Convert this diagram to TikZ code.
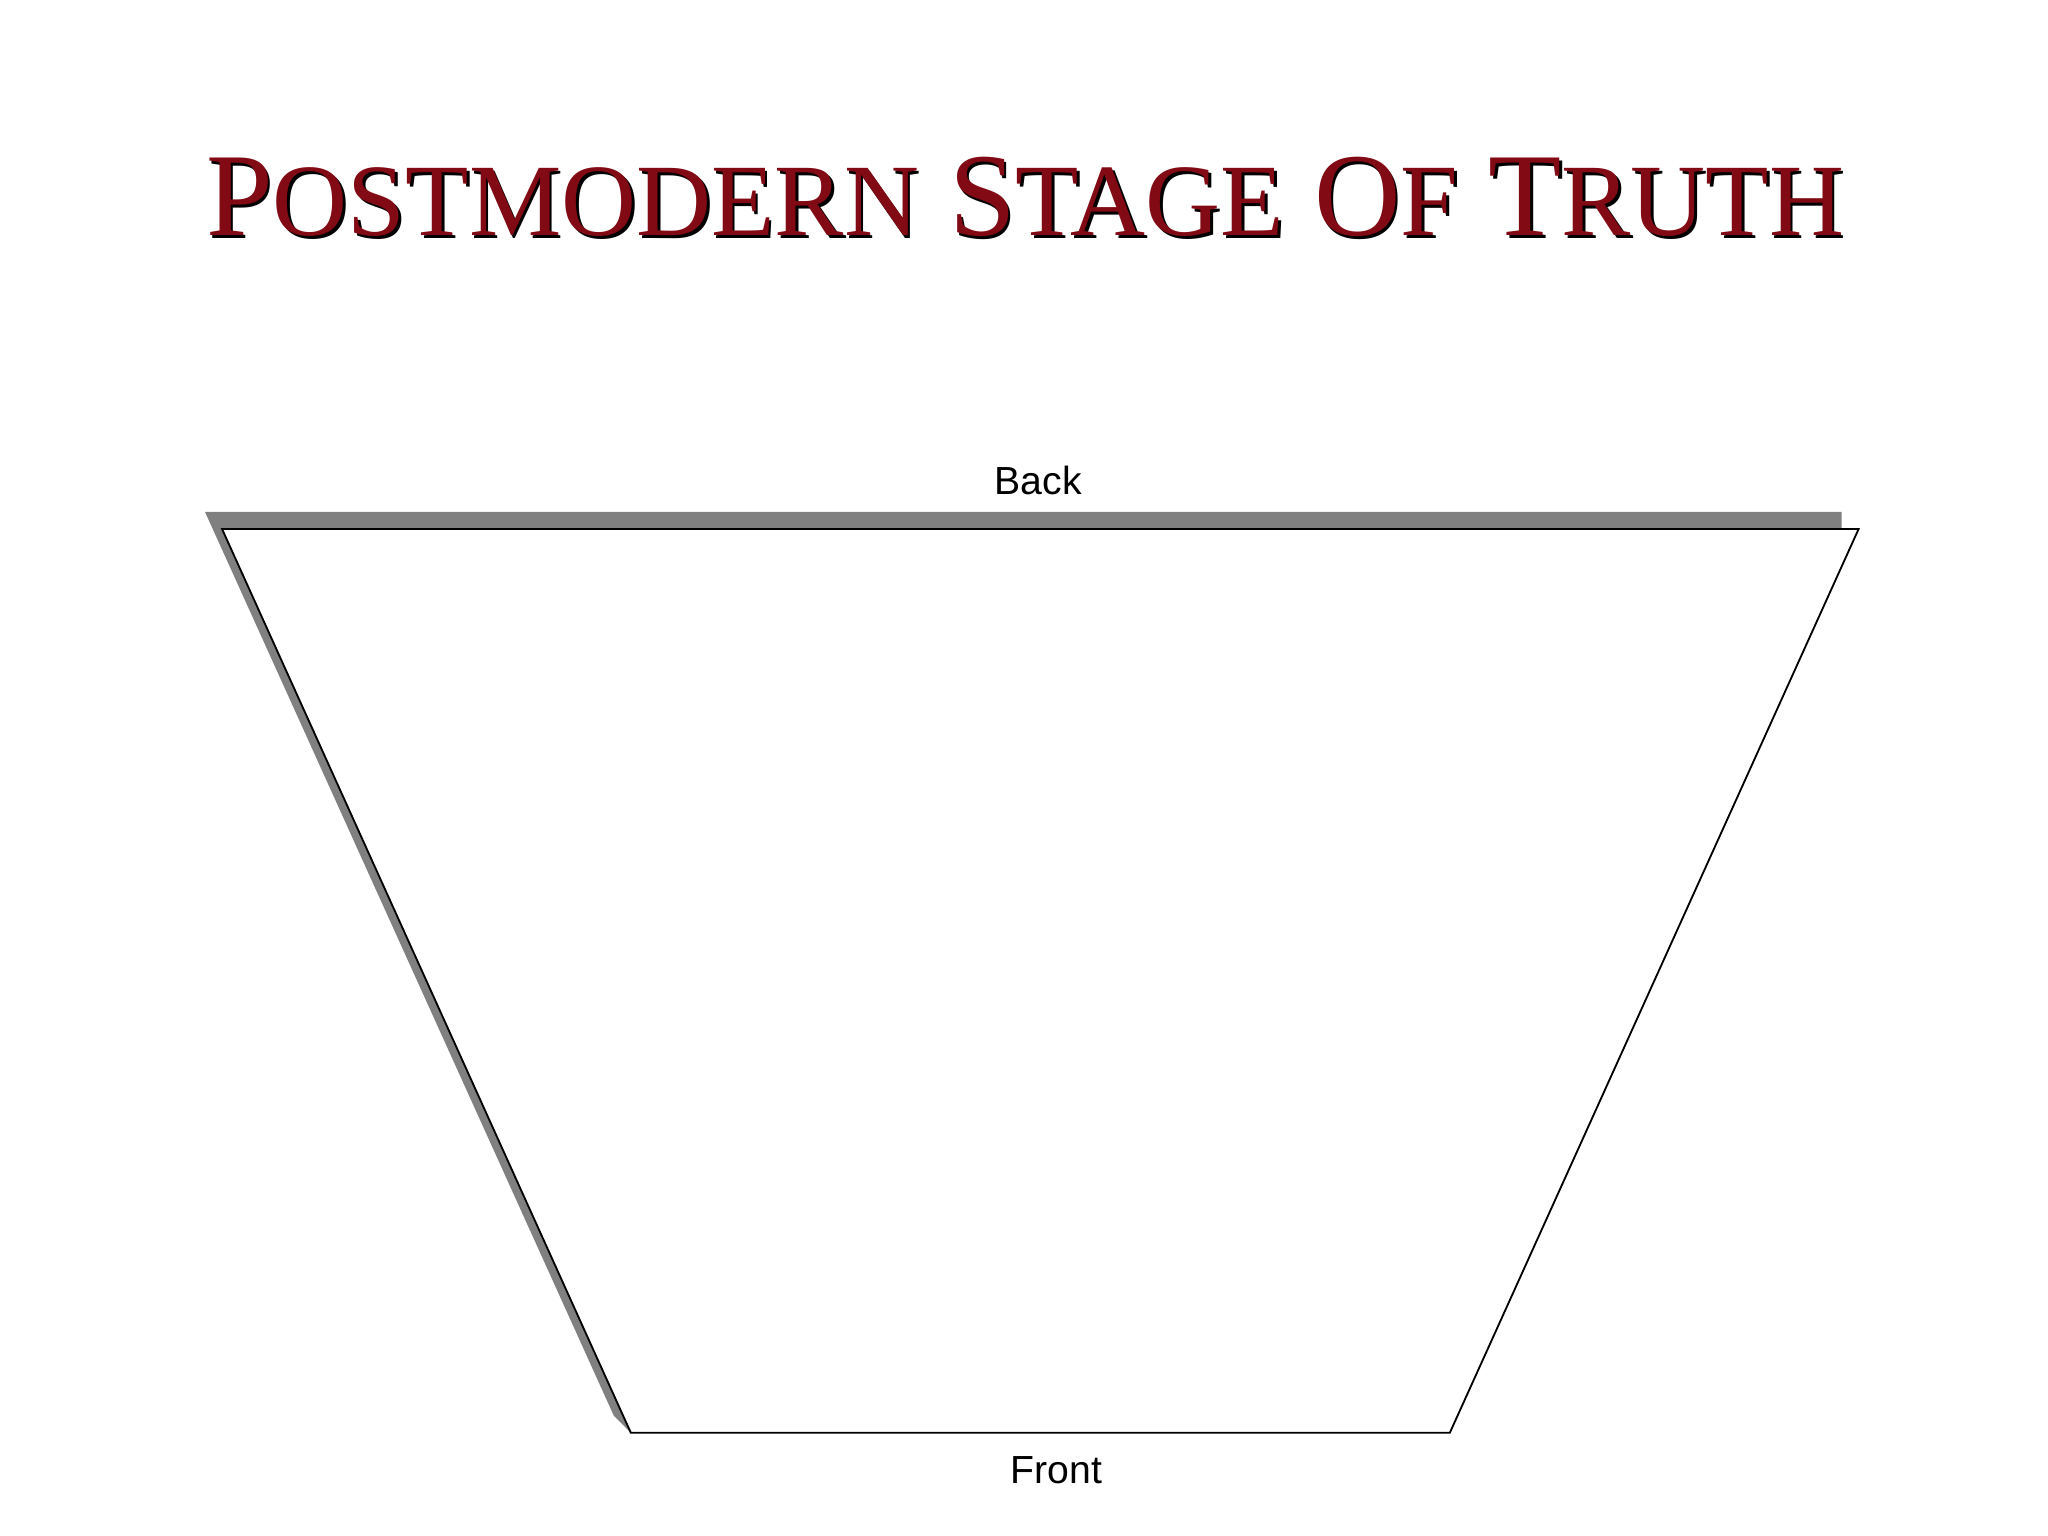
\documentclass[tikz,border=0pt]{standalone}
\usepackage{fontspec}
\setmainfont{Liberation Serif}
\setsansfont{Liberation Sans}
\definecolor{titlered}{RGB}{130,10,20}
\definecolor{shadowgray}{RGB}{128,128,128}
\newcommand{\ttl}{\resizebox{627pt}{30pt}{\fontsize{45}{50}\selectfont P{\fontsize{39}{44}\selectfont OSTMODERN} S{\fontsize{39}{44}\selectfont TAGE} O{\fontsize{39}{44}\selectfont F} T{\fontsize{39}{44}\selectfont RUTH}}}
\tikzset{lbl/.style={font=\sffamily\fontsize{15}{18}\selectfont}}
\begin{document}
\begin{tikzpicture}[x=0.5pt,y=-0.5pt]
\useasboundingbox (0,0) rectangle (1568,1176);
\fill[white] (0,0) rectangle (1568,1176);
\node (tshadow) at (787,153) {\ttl};
\node[text=titlered] (title) at (785,151) {\ttl};
\coordinate (s1) at (157,392);
\coordinate (s2) at (1410,392);
\coordinate (a) at (170,405);
\coordinate (b) at (1423,405);
\coordinate (c) at (1110,1097);
\coordinate (d) at (483,1097);
\fill[shadowgray] (s1) -- (s2) -- (1410,405) -- (a) -- (d) -- (470,1084) -- cycle;
\draw[fill=white, line width=0.7pt] (a) -- (b) -- (c) -- (d) -- cycle;
\node[lbl] (back) at (795,368) {Back};
\node[lbl] (front) at (809,1126) {Front};
\end{tikzpicture}
\end{document}
